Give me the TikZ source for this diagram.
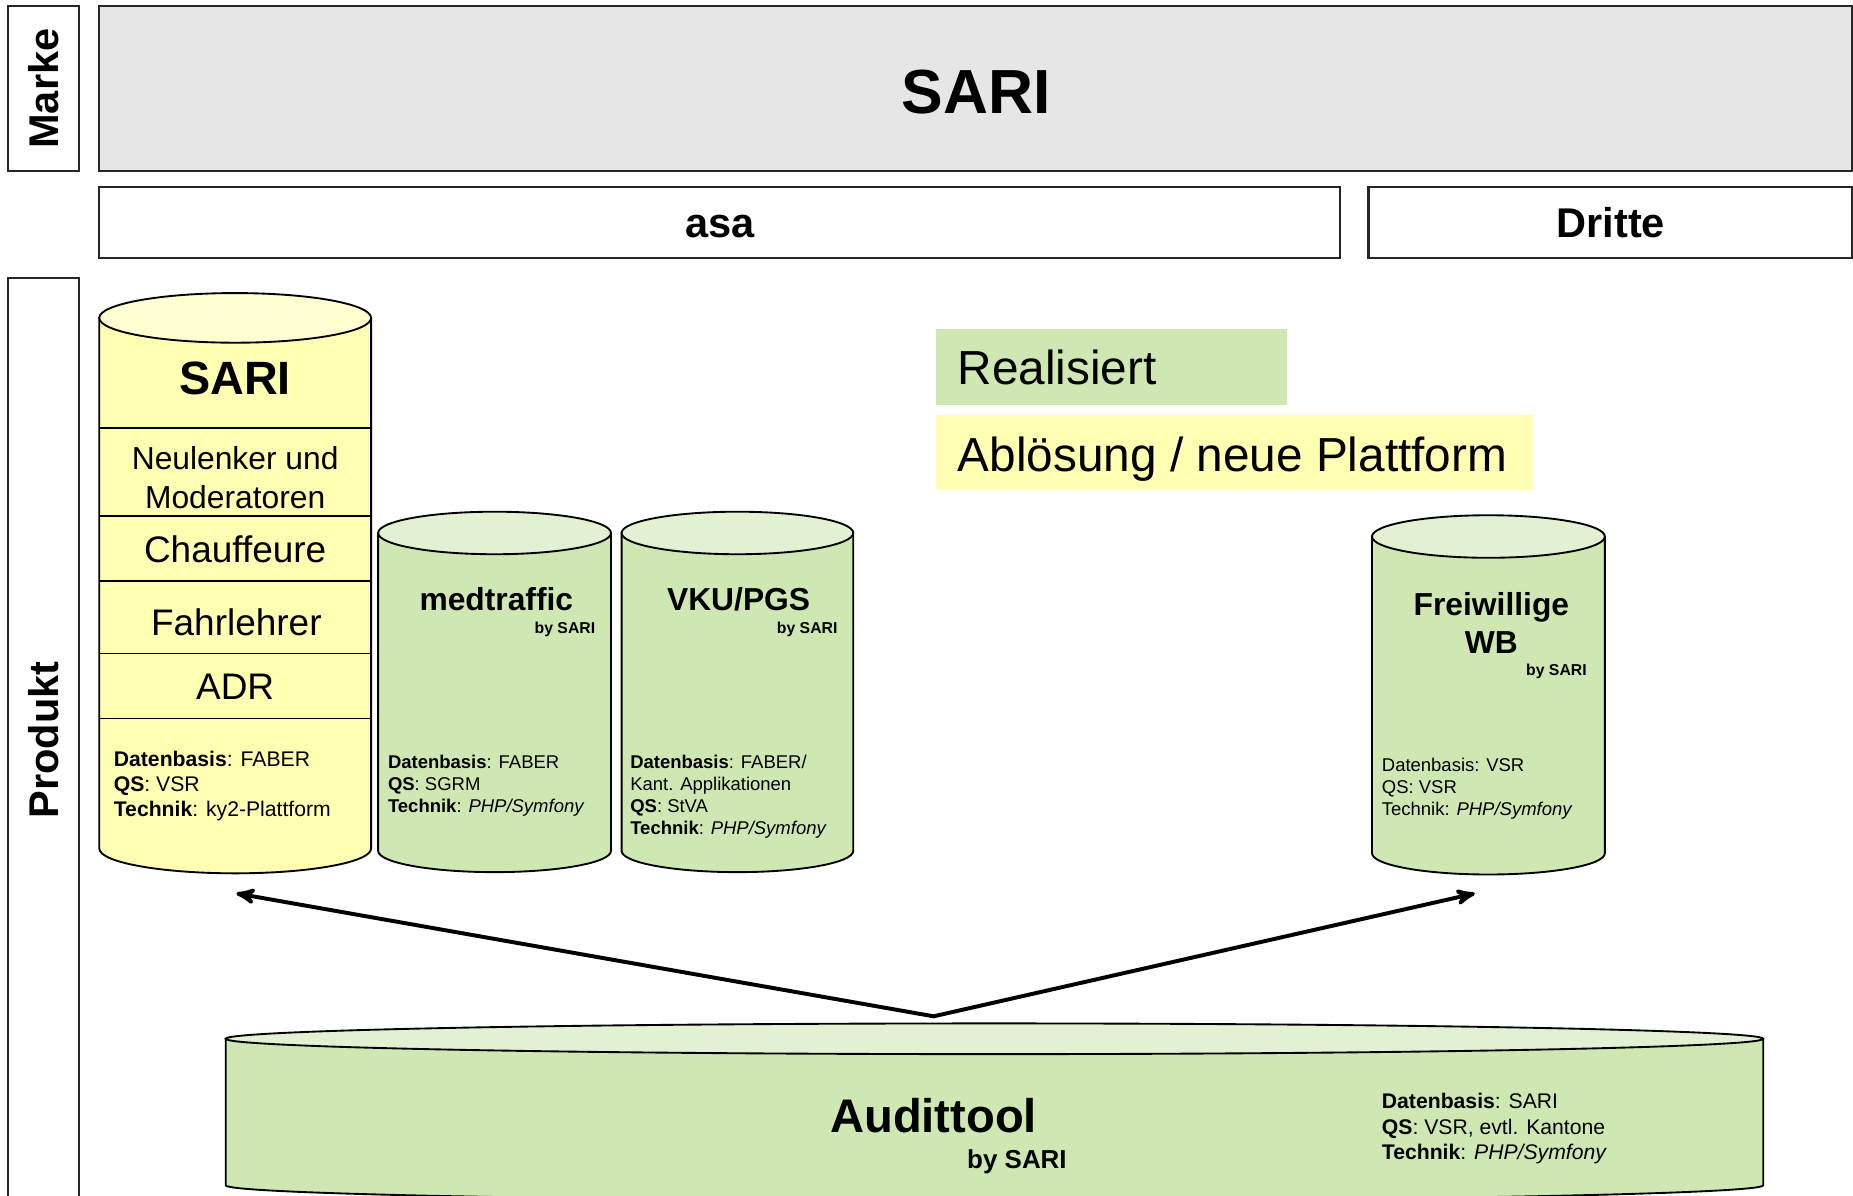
\documentclass[tikz,border=0pt]{standalone}
\usepackage{fontspec}
\setmainfont{Liberation Sans}
\usetikzlibrary{arrows,calc}
\definecolor{markegrey}{HTML}{E6E6E6}
\definecolor{sariyellow}{HTML}{FFFFB3}
\definecolor{realgreen}{HTML}{CFE8B3}
% left x, right x, top y, bottom y, y radius, colour
\newcommand{\dbcyl}[6]{%
  \filldraw[cyl, fill=#6] (#1,#3) -- (#1,#4)
    arc[start angle=180, end angle=0, x radius={(#2-#1)/2}, y radius=#5] -- (#2,#3) -- cycle;
  \filldraw[cyl, fill=#6!60!white] ({(#1+#2)/2},#3) ellipse [x radius={(#2-#1)/2}, y radius=#5];
}

\begin{document}
\begin{tikzpicture}[x=0.2mm, y=-0.2mm,
frame/.style={draw=black!85, line width=1pt},
cyl/.style={draw=black, line width=0.9pt},
bar/.style={font=\fontsize{20}{24}\selectfont\bfseries, inner sep=0pt},
bigtitle/.style={font=\fontsize{22.5}{27}\selectfont\bfseries, inner sep=0pt},
title/.style={font=\fontsize{15.3}{18.3}\selectfont\bfseries, inner sep=0pt, align=center},
seg/.style={font=\fontsize{17.8}{21}\selectfont, inner sep=0pt},
byline/.style={font=\fontsize{7.6}{9}\selectfont\bfseries, inner sep=0pt},
info/.style={font=\fontsize{8.9}{10.6}\selectfont, inner sep=0pt, align=left, anchor=north west},
bigInfo/.style={font=\fontsize{10.2}{12.2}\selectfont, inner sep=0pt, align=left, anchor=north west},
legend/.style={font=\fontsize{23}{27}\selectfont, inner sep=0pt, anchor=base west},
link/.style={line width=1.9pt, stealth'-stealth'}
]
\useasboundingbox (0,0) rectangle (1568,1012);

\draw[frame] (7,5) rectangle (67,145);
\node[bar, rotate=90] (marke) at (37,75) {Marke};
\draw[frame] (7,235) rectangle (67,1030);
\node[bar, rotate=90] (produkt) at (37,626) {Produkt};

\draw[frame, fill=markegrey] (84,5) rectangle (1567,145);
\node[font=\fontsize{30}{36}\selectfont\bfseries, anchor=base] (sari) at (826,96) {SARI};
\draw[frame] (84,158) rectangle (1134,218);
\node[bar, anchor=base] (asa) at (609,201) {asa};
\draw[frame] (1158,158) rectangle (1567,218);
\node[bar, anchor=base] (dritte) at (1363,201) {Dritte};

\fill[realgreen] (792,278) rectangle (1089,343);
\node[legend] (real) at (810,325) {Realisiert};
\fill[sariyellow] (792,351) rectangle (1297,415);
\node[legend] (abl) at (810,399) {Ablösung / neue Plattform};

\dbcyl{84}{314}{269}{718}{21}{sariyellow}
\foreach \y in {362,437,492,553,608}
  \draw[cyl] (84,\y) -- (314,\y);
\node[bigtitle, anchor=base] (sariT) at (199,334) {SARI};
\node[seg, font=\fontsize{15.3}{18.8}\selectfont, align=center] (neul) at (199,404) {Neulenker und\\Moderatoren};
\node[seg, anchor=base] (chauf) at (199,476) {Chauffeure};
\node[seg, anchor=base] (fahr) at (200,538) {Fahrlehrer};
\node[seg, anchor=base] (adr) at (199,592) {ADR};
\node[bigInfo] (sariInfo) at (96,635) {\textbf{Datenbasis}: FABER\\\textbf{QS}: VSR\\\textbf{Technik}: ky2-Plattform};

\dbcyl{320}{517}{451}{720}{18}{realgreen}
\node[title, anchor=base] (med) at (420,517) {medtraffic};
\node[byline, anchor=base east] (medBy) at (504,536) {by SARI};
\node[info] (medInfo) at (328,639) {\textbf{Datenbasis}: FABER\\\textbf{QS}: SGRM\\\textbf{Technik}: \textit{PHP/Symfony}};

\dbcyl{526}{722}{451}{720}{18}{realgreen}
\node[title, anchor=base] (vku) at (625,517) {VKU/PGS};
\node[byline, anchor=base east] (vkuBy) at (709,536) {by SARI};
\node[info] (vkuInfo) at (533,639) {\textbf{Datenbasis}: FABER/\\Kant. Applikationen\\\textbf{QS}: StVA\\\textbf{Technik}: \textit{PHP/Symfony}};

\dbcyl{1161}{1358}{454}{722}{18}{realgreen}
\node[title] (fw) at (1262,527) {Freiwillige\\WB};
\node[byline, anchor=base east] (fwBy) at (1343,572) {by SARI};
\node[info] (fwInfo) at (1169,641) {Datenbasis: VSR\\QS: VSR\\Technik: \textit{PHP/Symfony}};

\dbcyl{191}{1492}{879}{1003}{13}{realgreen}
\node[font=\fontsize{22.7}{27}\selectfont\bfseries, inner sep=0pt, anchor=base] (audit) at (790,958) {Audittool};
\node[font=\fontsize{12.5}{15}\selectfont\bfseries, inner sep=0pt, anchor=base east] (auditBy) at (903,989) {by SARI};
\node[bigInfo] (auditInfo) at (1169,925) {\textbf{Datenbasis}: SARI\\\textbf{QS}: VSR, evtl. Kantone\\\textbf{Technik}: \textit{PHP/Symfony}};

\coordinate (apex) at (790,860);
\coordinate (sariFoot) at (200,756);
\coordinate (fwFoot) at (1248,756);
\draw[link] (sariFoot) -- (apex) -- (fwFoot);
\end{tikzpicture}
\end{document}
